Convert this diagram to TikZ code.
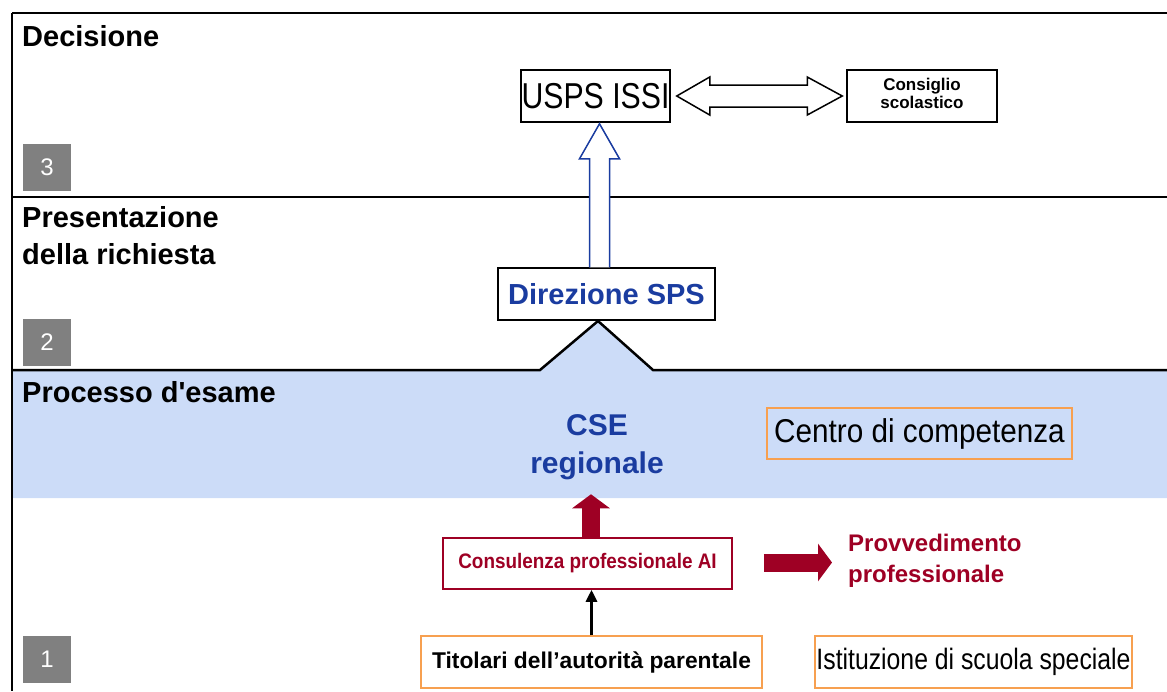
\documentclass[tikz,border=0pt]{standalone}
\usepackage{fontspec}
\setmainfont{Liberation Sans}
\newfontfamily\narrowfont{Liberation Sans}[FakeStretch=0.84]
\newfontfamily\condfont{Liberation Sans}[FakeStretch=0.9]
\usepackage{tikz}
\usetikzlibrary{calc}
\usetikzlibrary{arrows.meta}
\definecolor{bandblue}{RGB}{204,220,248}
\definecolor{darkblue}{RGB}{26,60,160}
\definecolor{darkred}{RGB}{158,0,36}
\definecolor{boxorange}{RGB}{247,160,80}
\definecolor{numgray}{RGB}{128,128,128}

\begin{document}
\begin{tikzpicture}[x=1pt,y=-1pt,
    head/.style={anchor=west, inner sep=0pt, align=left, font=\bfseries\fontsize{29}{37}\selectfont},
    numbox/.style={fill=numgray, text=white, minimum width=48pt, minimum height=47pt, inner sep=0pt, font=\fontsize{24}{24}\selectfont},
    plainbox/.style={draw, line width=1.5pt, fill=white, inner sep=0pt},
    orangebox/.style={draw=boxorange, line width=1.5pt, inner sep=0pt},
    sepline/.style={line width=2.5pt},
    fatred/.style={darkred, line width=18pt, -{Triangle[width=37pt,length=14pt]}}]
    \useasboundingbox (0,0) rectangle (1167,691);
    % Band 1: Processo d'esame
    \fill[bandblue] (12,370) -- (540,370) -- (598,321) -- (653,370) -- (1167,370) -- (1167,498) -- (12,498) -- cycle;
    \draw[sepline] (12,13) -- (1167,13);
    \draw[sepline] (12,197) -- (1167,197);
    \draw[sepline] (12,370) -- (540,370) -- (598,321) -- (653,370) -- (1167,370);
    \draw[line width=2pt] (12,13) -- (12,691);
    %
    \node[head] (dec) at (22,36) {Decisione};
    \node[head] (pres) at (22,236) {Presentazione\\della richiesta};
    \node[head] (proc) at (22,392) {Processo d\textquotesingle esame};
    \node[numbox] (n3) at (47,167) {3};
    \node[numbox] (n2) at (47,342) {2};
    \node[numbox] (n1) at (47,659) {1};
    % Boxes
    \node[plainbox, minimum width=149pt, minimum height=52pt, font=\narrowfont\fontsize{36}{36}\selectfont] (usps) at (595.5,96) {USPS ISSI};
    \node[plainbox, minimum width=150pt, minimum height=52pt] (cons) at (922,96) {};
    \node[anchor=north, inner sep=0pt, align=center, font=\bfseries\fontsize{17}{18}\selectfont] (constxt) at ($(cons.north)+(0,9)$) {Consiglio\\scolastico};
    \node[plainbox, minimum width=217pt, minimum height=52pt, text=darkblue, font=\bfseries\fontsize{29}{29}\selectfont] (dir) at (606.5,294) {Direzione SPS};
    \node[align=center, text=darkblue, font=\bfseries\fontsize{30}{38}\selectfont] (cse) at (597,447) {CSE\\regionale};
    \node[orangebox, minimum width=305pt, minimum height=51pt, font=\condfont\fontsize{33}{33}\selectfont] (cdc) at (919.5,433.5) {Centro di competenza};
    \node[draw=darkred, line width=1.5pt, minimum width=289pt, minimum height=51pt, inner sep=0pt, text=darkred, font=\condfont\bfseries\fontsize{21}{21}\selectfont] (cpa) at (587.5,563.5) {Consulenza professionale AI};
    \node[anchor=west, inner sep=0pt, align=left, text=darkred, font=\bfseries\fontsize{24}{31}\selectfont] (prov) at (848,561) {Provvedimento\\professionale};
    \node[orangebox, minimum width=341pt, minimum height=52pt, font=\bfseries\fontsize{22.8}{22.8}\selectfont] (tit) at (591.5,662) {Titolari dell'autorità parentale};
    \node[orangebox, minimum width=317pt, minimum height=52pt, font=\narrowfont\fontsize{29.5}{29.5}\selectfont] (ist) at (973.5,662) {Istituzione di scuola speciale};
    %
    % Arrows:
    \draw[line width=1.5pt, fill=white] ($(usps.east)+(6,0)$) -- ++(33,-19) -- ++(0,8) -- ($(cons.west)+(-39,-11)$) -- ++(0,-8) -- ($(cons.west)+(-4,0)$) -- ++(-35,19) -- ++(0,-8) -- ($(usps.east)+(39,11)$) -- ++(0,8) -- cycle;
    \draw[darkblue, line width=1.5pt, fill=white] ($(dir.north)+(-17,0)$) -- ($(usps.south)+(-6,36)$) -- ($(usps.south)+(-16,36)$) -- ($(usps.south)+(4,1)$) -- ($(usps.south)+(24,36)$) -- ($(usps.south)+(14,36)$) -- ($(dir.north)+(3,0)$);
    \draw[fatred] ($(cpa.north)+(3.5,0)$) -- ($(cpa.north)+(3.5,-43)$);
    \draw[fatred] ($(cpa.east)+(31,-1)$) -- ($(cpa.east -| prov.west)+(-16,-1)$);
    \draw[line width=3pt, -{Triangle[width=11pt,length=12pt]}] (tit.north) -- (tit.north |- cpa.south);
\end{tikzpicture}
\end{document}
